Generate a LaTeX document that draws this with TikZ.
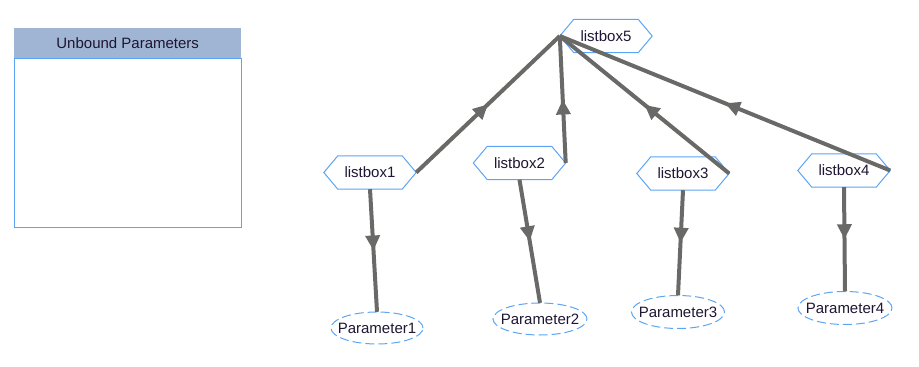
\documentclass[tikz,border=0pt]{standalone}
\usepackage{fontspec}
\setmainfont{Liberation Sans}
\usetikzlibrary{arrows.meta,decorations.markings}
\definecolor{nodeblue}{RGB}{90,165,245}
\definecolor{headfill}{RGB}{160,181,211}
\definecolor{edgegray}{RGB}{105,106,104}
\definecolor{txt}{RGB}{30,22,50}
\tikzset{
  lbl/.style={font=\fontsize{15}{18}\selectfont, text=txt},
  hexbox/.style={lbl, minimum width=92pt, minimum height=33pt, inner sep=0pt},
  hexline/.style={draw=nodeblue, line width=1pt},
  parnode/.style={lbl, minimum width=92pt, minimum height=32pt, inner sep=0pt},
  parline/.style={draw=nodeblue, line width=1pt, dash pattern=on 9pt off 4pt},
  conn/.style={draw=edgegray, line width=4pt,
    postaction={decorate},
    decoration={markings, mark=at position 0.5 with {\arrow[edgegray]{Triangle[length=15pt,width=14pt]}}}},
}
\begin{document}
\begin{tikzpicture}[x=1pt,y=-1pt]
\useasboundingbox (0,0) rectangle (919,367);
% Unbound parameters panel
\node[draw=nodeblue, line width=1.2pt, minimum width=227pt, minimum height=169pt, inner sep=0pt, anchor=north west] (ubbody) at (14,58) {};
\node[fill=headfill, minimum width=227pt, minimum height=30pt, inner sep=0pt, anchor=north west, lbl] (ubhead) at (14,28) {Unbound Parameters};
% listboxes
\node[hexbox] (lb1) at (370,172.5) {listbox1};
\node[hexbox] (lb2) at (519.5,163) {listbox2};
\node[hexbox] (lb3) at (683,173.5) {listbox3};
\node[hexbox] (lb4) at (844,170.5) {listbox4};
\node[hexbox] (lb5) at (606,36) {listbox5};
\foreach \n in {lb1,lb2,lb3,lb4,lb5}{
  \draw[hexline] (\n.west) -- ([xshift=14pt]\n.north west) -- ([xshift=-14pt]\n.north east) -- (\n.east) -- ([xshift=-14pt]\n.south east) -- ([xshift=14pt]\n.south west) -- cycle;
}
% parameters
\node[parnode] (p1) at (377,328) {Parameter1};
\node[parnode, minimum width=94pt] (p2) at (540,319) {Parameter2};
\node[parnode, minimum width=93pt, minimum height=33pt] (p3) at (678,312) {Parameter3};
\node[parnode, minimum width=94pt, minimum height=33pt] (p4) at (845,308) {Parameter4};
\draw[parline] (p1.center) ellipse [x radius=46pt, y radius=16pt];
\draw[parline] (p2.center) ellipse [x radius=47pt, y radius=16pt];
\draw[parline] (p3.center) ellipse [x radius=46.5pt, y radius=16.5pt];
\draw[parline] (p4.center) ellipse [x radius=47pt, y radius=16.5pt];
% connectors
\draw[conn] (lb1.east) -- (lb5.west);
\draw[conn] (lb2.east) -- (lb5.west);
\draw[conn] (lb3.east) -- (lb5.west);
\draw[conn] (lb4.east) -- (lb5.west);
\draw[conn] (lb1.south) -- (p1.north);
\draw[conn] (lb2.south) -- (p2.north);
\draw[conn] (lb3.south) -- (p3.north);
\draw[conn] (lb4.south) -- (p4.north);
\end{tikzpicture}
\end{document}
